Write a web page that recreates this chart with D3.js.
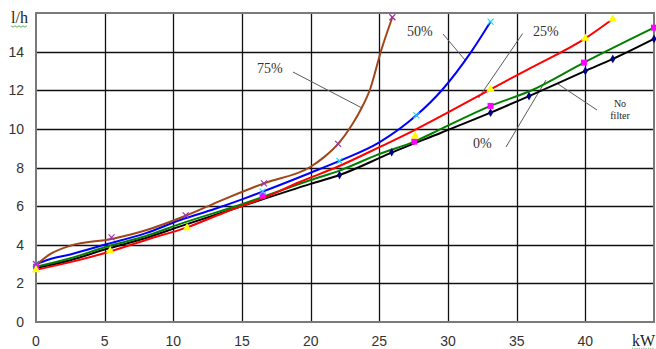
<!DOCTYPE html>
<html>
<head>
<meta charset="utf-8">
<script src="https://cdn.jsdelivr.net/npm/d3@7"></script>
<style>
  html, body { margin: 0; padding: 0; background: #fff; }
  svg { display: block; }
</style>
</head>
<body>
<svg id="chart" width="656" height="349"></svg>
<script>
// ---- data ----
const xTicks = [0, 5, 10, 15, 20, 25, 30, 35, 40];
const yTicks = [0, 2, 4, 6, 8, 10, 12, 14];
const xGrid = [0, 5, 10, 15, 20, 25, 30, 35, 40, 45];
const yGrid = [0, 2, 4, 6, 8, 10, 12, 14, 16];
const xUnit = "kW";
const yUnit = "l/h";

const series0 = [[0,2.8],[2.5,3.2],[5,3.75],[8,4.35],[10.5,4.95],[15,6.0],[20,7.15],[22.1,7.61],[25.9,8.77],[29.5,9.8],[33.1,10.84],[35.9,11.7],[40,13.0],[42,13.62],[45,14.66]];
const markers0 = [[0,2.8],[22.1,7.61],[25.9,8.79],[33.1,10.84],[35.9,11.7],[40,13.0],[42,13.62],[45,14.66]];

const seriesNoFilter = [[0,2.86],[2.5,3.3],[5,3.87],[8,4.45],[10.5,5.08],[15,6.1],[20,7.35],[22.1,7.84],[25,8.7],[27.55,9.34],[29.5,10.0],[33.1,11.19],[36.1,12.0],[39.9,13.43],[45,15.24]];
const markersNoFilter = [[0,2.86],[16.5,6.55],[27.55,9.34],[33.1,11.19],[39.9,13.43],[45,15.24]];

const series25 = [[0,2.7],[2.5,3.1],[5.4,3.65],[8,4.25],[11,4.9],[14,5.75],[16.5,6.4],[19.2,7.25],[22,8.05],[25,9.05],[27.6,9.95],[30,10.85],[33.1,12.05],[36,13.15],[40,14.69],[42,15.69]];
const markers25 = [[0,2.7],[5.4,3.69],[11,4.88],[27.6,9.63],[33.1,12.05],[40,14.69],[42,15.69]];

const series50 = [[0,3.0],[1,3.25],[2.5,3.5],[5,4.0],[8,4.6],[10.5,5.28],[13,5.85],[15,6.35],[16.5,6.75],[20,7.73],[22.1,8.34],[25,9.3],[27.7,10.7],[29.55,12.0],[31.7,14.0],[33.1,15.55]];
const markers50 = [[0,3.0],[16.5,6.75],[22.1,8.34],[27.7,10.7],[33.1,15.55]];

const series75 = [[0,2.95],[1,3.5],[2.5,3.95],[5.5,4.3],[8,4.75],[10.9,5.5],[13.5,6.3],[16.6,7.18],[20,8.04],[21,8.55],[22,9.22],[23,10.2],[23.7,11.07],[24.3,12.0],[25.15,14.1],[25.95,15.78]];
const markers75 = [[0,3.0],[5.5,4.38],[10.9,5.52],[16.6,7.18],[22,9.22],[25.95,15.78]];

const labelNames = ["75%", "50%", "25%", "0%", "No filter"];

// ---- layout ----
const svg = d3.select("#chart");
const x = d3.scaleLinear().domain([0, 45]).range([36, 654]);
const y = d3.scaleLinear().domain([0, 16]).range([322, 13]);

// grid
const grid = svg.append("g");
grid.selectAll("line.v").data(xGrid.slice(1, -1)).enter().append("line")
  .attr("x1", d => Math.round(x(d)) + 0.5).attr("x2", d => Math.round(x(d)) + 0.5)
  .attr("y1", y(16)).attr("y2", y(0))
  .attr("stroke", "#111").attr("stroke-width", 1.3);
grid.selectAll("line.h").data(yGrid.slice(1, -1)).enter().append("line")
  .attr("y1", d => Math.round(y(d)) + 0.5).attr("y2", d => Math.round(y(d)) + 0.5)
  .attr("x1", x(0)).attr("x2", x(45))
  .attr("stroke", "#111").attr("stroke-width", 1.3);
grid.append("rect")
  .attr("x", x(0)).attr("y", y(16))
  .attr("width", x(45) - x(0)).attr("height", y(0) - y(16))
  .attr("fill", "none").attr("stroke", "#7a7a7a").attr("stroke-width", 2);

// axes labels
const tickFont = "'Liberation Sans', Arial, sans-serif";
svg.append("g").selectAll("text").data(yTicks).enter().append("text")
  .attr("x", 24).attr("y", d => y(d) + 5)
  .attr("text-anchor", "end")
  .attr("font-family", tickFont).attr("font-size", 14)
  .attr("fill", "#333").text(d => d);
svg.append("g").selectAll("text").data(xTicks).enter().append("text")
  .attr("x", d => x(d)).attr("y", 346)
  .attr("text-anchor", "middle")
  .attr("font-family", tickFont).attr("font-size", 14)
  .attr("fill", "#333").text(d => d);

const serif = "'Liberation Serif', 'Times New Roman', serif";
svg.append("text").attr("x", 11).attr("y", 23)
  .attr("font-family", serif).attr("font-size", 16).attr("fill", "#222").text(yUnit);
svg.append("text").attr("x", 632).attr("y", 346)
  .attr("font-family", serif).attr("font-size", 16).attr("fill", "#222").text(xUnit);
const squig = d3.range(0, 9).map(i => [11 + i * 2, 26 + (i % 2 ? 1.2 : -0.2)]);
svg.append("path").attr("d", d3.line()(squig)).attr("fill", "none")
  .attr("stroke", "#3a9a3a").attr("stroke-width", 0.8);
const squig2 = d3.range(0, 12).map(i => [632 + i * 2, 348.3 + (i % 2 ? 0.7 : -0.3)]);
svg.append("path").attr("d", d3.line()(squig2)).attr("fill", "none")
  .attr("stroke", "#3a9a3a").attr("stroke-width", 0.8).attr("stroke-dasharray", "1,1");

// leader lines + labels
const ann = svg.append("g");
const leaders = [
  [[293, 72], [362, 108]],
  [[443, 34], [465, 60]],
  [[522.7, 33.5], [478.5, 98]],
  [[506, 147], [546, 80]],
  [[597, 110], [558, 84]]
];
leaders.forEach(p => ann.append("path").attr("d", d3.line()(p))
  .attr("stroke", "#5a5a5a").attr("stroke-width", 1).attr("fill", "none"));
const pctFont = 14;
ann.append("text").attr("x", 257).attr("y", 73).attr("font-family", serif).attr("font-size", pctFont).attr("fill", "#333").text(labelNames[0]);
ann.append("text").attr("x", 407).attr("y", 36).attr("font-family", serif).attr("font-size", pctFont).attr("fill", "#333").text(labelNames[1]);
ann.append("text").attr("x", 533).attr("y", 36).attr("font-family", serif).attr("font-size", pctFont).attr("fill", "#333").text(labelNames[2]);
ann.append("text").attr("x", 473).attr("y", 148).attr("font-family", serif).attr("font-size", pctFont).attr("fill", "#333").text(labelNames[3]);
const nf = labelNames[4].split(" ");
ann.append("text").attr("x", 620).attr("y", 107).attr("text-anchor", "middle").attr("font-family", serif).attr("font-size", 10).attr("fill", "#222").text(nf[0]);
ann.append("text").attr("x", 620).attr("y", 119).attr("text-anchor", "middle").attr("font-family", serif).attr("font-size", 10).attr("fill", "#222").text(nf[1]);

// lines
const line = d3.line().x(d => x(d[0])).y(d => y(d[1])).curve(d3.curveMonotoneX);
const seriesList = [
  { data: series0, markers: markers0, color: "#000000", mk: "diamond", mcolor: "#000080" },
  { data: seriesNoFilter, markers: markersNoFilter, color: "#008000", mk: "square", mcolor: "#ff00ff" },
  { data: series25, markers: markers25, color: "#ff0000", mk: "triangle", mcolor: "#ffff00" },
  { data: series50, markers: markers50, color: "#0000ff", mk: "x", mcolor: "#00e5ff" },
  { data: series75, markers: markers75, color: "#a0461a", mk: "x", mcolor: "#9933aa" }
];
seriesList.forEach(s => {
  svg.append("path").datum(s.data).attr("d", line)
    .attr("fill", "none").attr("stroke", s.color).attr("stroke-width", 2);
});
seriesList.forEach(s => {
  const g = svg.append("g");
  s.markers.forEach(m => {
    const cx = x(m[0]), cy = y(m[1]);
    if (s.mk === "diamond") {
      g.append("path").attr("d", d3.symbol(d3.symbolDiamond, 22)())
        .attr("transform", `translate(${cx},${cy})`).attr("fill", s.mcolor);
    } else if (s.mk === "square") {
      g.append("rect").attr("x", cx - 3).attr("y", cy - 3).attr("width", 6).attr("height", 6).attr("fill", s.mcolor);
    } else if (s.mk === "triangle") {
      g.append("path").attr("d", d3.symbol(d3.symbolTriangle, 30)())
        .attr("transform", `translate(${cx},${cy})`).attr("fill", s.mcolor);
    } else {
      g.append("path").attr("d", `M${cx-3},${cy-3}L${cx+3},${cy+3}M${cx-3},${cy+3}L${cx+3},${cy-3}`)
        .attr("stroke", s.mcolor).attr("stroke-width", 1.2);
    }
  });
});
</script>
</body>
</html>
